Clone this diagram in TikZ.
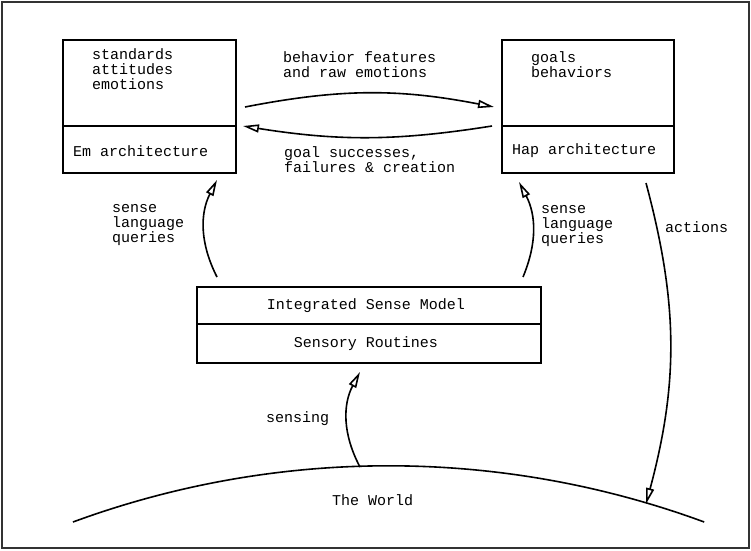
\documentclass[tikz,border=0pt]{standalone}
\usepackage{fontspec}
\setmonofont{Liberation Mono}
\usetikzlibrary{arrows.meta,positioning}
\tikzset{>={Triangle[open,length=16pt,width=8pt]}}
\tikzset{
  archbox/.style={draw, line width=2pt, outer sep=0pt, inner sep=0pt},
  flow/.style={->, line width=1.6pt},
  lbl/.style={font=\ttfamily\fontsize{15}{15}\selectfont, inner sep=0pt, align=left}
}

\begin{document}
\begin{tikzpicture}[x=1pt,y=1pt]

                \useasboundingbox (0,0) rectangle (751,550);
                \draw[line width=1.2pt, black!80] (2,2) rectangle (749,548);

                % Em and Hap architectures
                \node[archbox, minimum width=173pt, minimum height=86pt] (emtop) at (149.5,467) {};
                \node[archbox, minimum width=173pt, minimum height=47pt, below=0pt of emtop] (embot) {};
                \node[archbox, minimum width=172pt, minimum height=86pt] (haptop) at (588,467) {};
                \node[archbox, minimum width=172pt, minimum height=47pt, below=0pt of haptop] (hapbot) {};

                % Sense model and routines
                \node[archbox, lbl, minimum width=344pt, minimum height=37pt] (ism) at (369,244.5) {Integrated Sense Model\hspace{6pt}};
                \node[archbox, lbl, minimum width=344pt, minimum height=39pt, below=0pt of ism] (routines) {Sensory Routines\hspace{6pt}};

                % Texts inside the boxes (base = last line)
                \node[lbl, anchor=base west] (emlist) at (92,460) {standards\\attitudes\\emotions};
                \node[lbl, anchor=base west] (emname) at (73,394) {Em architecture};
                \node[lbl, anchor=base west] (haplist) at (531,472) {goals\\behaviors};
                \node[lbl, anchor=base west] (hapname) at (512,396) {Hap architecture};

                % The world
                \draw[line width=1.6pt] (73,28) arc[start angle=110.2, end angle=69.8, radius=914];
                \coordinate (worldtop) at (360,83);
                \coordinate (worldright) at (646,46);
                \node[lbl, anchor=base west] (world) at (332,45) {The World};

                % Arrows between the parts
                \draw[flow] ([shift={(9,19)}]emtop.south east) to[bend left=11] ([shift={(-8,19)}]haptop.south west);
                \draw[flow] ([shift={(-10,0)}]haptop.south west) to[bend left=9] ([shift={(7,0)}]emtop.south east);
                \draw[flow] ([shift={(20,10)}]ism.north west) to[bend left=27] ([shift={(-19,-7)}]embot.south east);
                \draw[flow] ([shift={(-18,10)}]ism.north east) to[bend right=25] ([shift={(17,-9)}]hapbot.south west);
                \draw[flow] ([shift={(-28,-10)}]hapbot.south east) to[bend left=15] (worldright);
                \draw[flow] (worldtop) to[bend left=28] ([shift={(-9,-9)}]routines.south);

                % Arrow labels
                \node[lbl, anchor=base west] (featlbl) at (283,472) {behavior features\\and raw emotions};
                \node[lbl, anchor=base west] (goallbl) at (284,378) {goal successes,\\failures \& creation};
                \node[lbl, anchor=base west] (emquery) at (112,308) {sense\\language\\queries};
                \node[lbl, anchor=base west] (hapquery) at (541,307) {sense\\language\\queries};
                \node[lbl, anchor=base west] (actlbl) at (665,318) {actions};
                \node[lbl, anchor=base west] (senselbl) at (266,128) {sensing};

            \end{tikzpicture}
\end{document}
